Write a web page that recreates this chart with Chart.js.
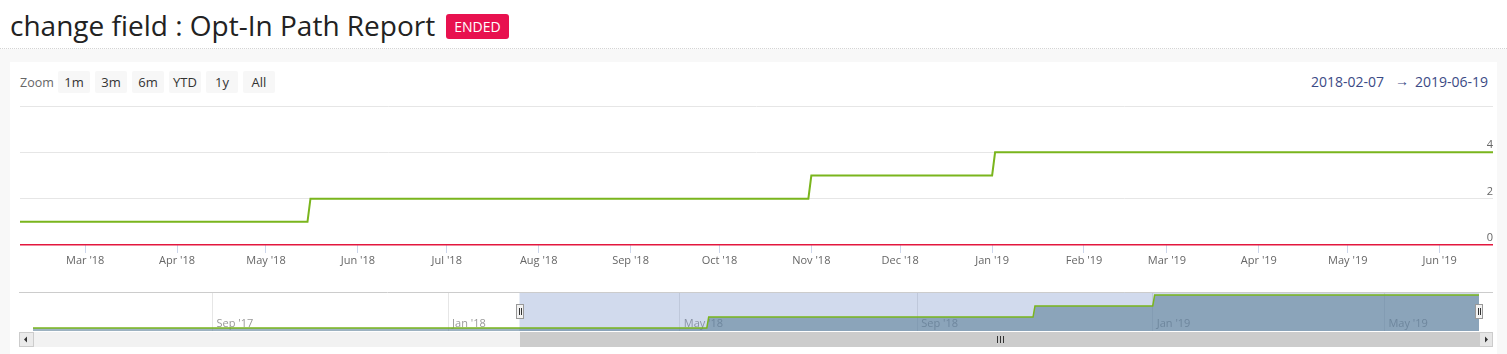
<!DOCTYPE html>
<html>
<head>
<meta charset="utf-8">
<script src="https://cdn.jsdelivr.net/npm/chart.js@4.4.1/dist/chart.umd.min.js"></script>
<style>
html, body { margin: 0; padding: 0; }
body { width: 1507px; height: 354px; background: #f8f8f8; font-family: "Open Sans", sans-serif; position: relative; overflow: hidden; }
.header { position: absolute; left: 0; top: 0; width: 1507px; height: 48px; background: #fff; border-bottom: 1px dotted #d4d4d4; }
.title { position: absolute; left: 10px; top: 5px; font-size: 28px; line-height: 40px; color: #222; white-space: nowrap; }
.badge { position: absolute; left: 446px; top: 14px; width: 63px; height: 25px; line-height: 25px; border-radius: 3px; background: #e8114f; color: #fff; font-size: 14px; text-align: center; }
.panel { position: absolute; left: 10px; top: 62px; width: 1487px; height: 292px; background: #fff; }
.zoom-label { position: absolute; left: 20px; top: 74px; font-size: 12.5px; line-height: 18px; color: #666; }
.rbtn { position: absolute; top: 71px; width: 32px; height: 22px; line-height: 22px; background: #f7f7f7; border-radius: 2px; font-size: 13px; color: #333; text-align: center; }
.range { position: absolute; top: 72px; font-size: 14px; line-height: 20px; color: #3b4a85; white-space: nowrap; }
.arrow { position: absolute; left: 1395px; top: 72px; font-size: 14px; line-height: 18px; color: #3b4a85; }
canvas { position: absolute; left: 0; }
</style>
</head>
<body>
<div class="header">
  <div class="title">change field : Opt-In Path Report</div>
  <div class="badge">ENDED</div>
</div>
<div class="panel"></div>
<div class="zoom-label">Zoom</div>
<div id="buttons"></div>
<div class="range" style="left:1311px">2018-02-07</div>
<div class="arrow">→</div>
<div class="range" style="left:1415px">2019-06-19</div>
<canvas id="main-chart" width="1507" height="180" style="top:96px"></canvas>
<canvas id="nav-chart" width="1507" height="64" style="top:286px"></canvas>
<script>
// field change count, one point per day where it changed
const changeDates = ['2017-05-31', '2018-05-15', '2018-05-16', '2018-10-31', '2018-11-01', '2019-01-01', '2019-01-02', '2019-06-19'];
const fieldChanges = [1, 1, 2, 2, 3, 3, 4, 4];

const rangeStart = '2018-02-07';
const rangeEnd = '2019-06-19';

const mainTickDates = ['2018-03-01', '2018-04-01', '2018-05-01', '2018-06-01', '2018-07-01', '2018-08-01', '2018-09-01', '2018-10-01',
    '2018-11-01', '2018-12-01', '2019-01-01', '2019-02-01', '2019-03-01', '2019-04-01', '2019-05-01', '2019-06-01'];
const mainTickLabels = ["Mar '18", "Apr '18", "May '18", "Jun '18", "Jul '18", "Aug '18", "Sep '18", "Oct '18",
    "Nov '18", "Dec '18", "Jan '19", "Feb '19", "Mar '19", "Apr '19", "May '19", "Jun '19"];
const yTickValues = [0, 2, 4, 6];

const navTickDates = ['2017-09-01', '2018-01-01', '2018-05-01', '2018-09-01', '2019-01-01', '2019-05-01'];
const navTickLabels = ["Sep '17", "Jan '18", "May '18", "Sep '18", "Jan '19", "May '19"];

const rangeButtons = ['1m', '3m', '6m', 'YTD', '1y', 'All'];

const GREEN = '#7ab51d';
const GRID_COLOR = '#e6e6e6';
const TICK_COLOR = '#666666';

const toMs = d => Date.parse(d + 'T00:00:00Z');
const points = changeDates.map((d, i) => ({ x: toMs(d), y: fieldChanges[i] }));

Chart.defaults.font.family = '"Open Sans", sans-serif';
Chart.defaults.font.size = 11;

const btnWrap = document.getElementById('buttons');
rangeButtons.forEach((b, i) => {
    const el = document.createElement('div');
    el.className = 'rbtn';
    el.style.left = (58 + i * 37) + 'px';
    el.textContent = b;
    btnWrap.appendChild(el);
});

new Chart(document.getElementById('main-chart'), {
    type: 'line',
    data: {
        datasets: [{
            data: points,
            borderColor: GREEN, borderWidth: 2,
            pointRadius: 0, tension: 0, fill: false
        }]
    },
    options: {
        responsive: false, animation: false, devicePixelRatio: 1,
        layout: { padding: { left: 20, right: 14, top: 10, bottom: 0 } },
        plugins: { legend: { display: false }, tooltip: { enabled: false } },
        scales: {
            x: {
                type: 'linear', min: toMs(rangeStart), max: toMs(rangeEnd),
                afterBuildTicks: s => { s.ticks = mainTickDates.map(d => ({ value: toMs(d) })); },
                afterFit: s => { s.height = 31; },
                border: { display: false },
                grid: { drawOnChartArea: false, drawTicks: true, tickLength: 8, color: '#ccd6eb' },
                ticks: { color: TICK_COLOR, autoSkip: false, maxRotation: 0, padding: 1, callback: (v, i) => mainTickLabels[i] }
            },
            y: {
                position: 'right', min: 0, max: 6,
                afterBuildTicks: s => { s.ticks = yTickValues.map(v => ({ value: v })); },
                afterFit: s => { s.width = 0; },
                border: { display: false },
                grid: {
                    drawTicks: false,
                    color: c => c.tick && c.tick.value === 0 ? '#e3173e' : GRID_COLOR,
                    lineWidth: c => c.tick && c.tick.value === 0 ? 1.5 : 1
                },
                ticks: { color: TICK_COLOR, mirror: true, padding: 0, labelOffset: -7, callback: v => v === 6 ? '' : String(v) }
            }
        }
    }
});

// navigator mask, handles, outline and scrollbar
const navigatorChrome = {
    id: 'navigatorChrome',
    beforeDatasetsDraw(chart) {
        const { ctx, chartArea: a, scales: { x } } = chart;
        const x0 = x.getPixelForValue(toMs(rangeStart)), x1 = x.getPixelForValue(toMs(rangeEnd));
        ctx.save();
        ctx.fillStyle = 'rgba(102,133,194,0.3)';
        ctx.fillRect(x0, a.top, x1 - x0, a.bottom - a.top);
        ctx.restore();
    },
    afterDraw(chart) {
        const { ctx, chartArea: a, scales: { x } } = chart;
        const x0 = Math.round(x.getPixelForValue(toMs(rangeStart)));
        const x1 = Math.round(x.getPixelForValue(toMs(rangeEnd)));
        const L = 19, R = 1493;
        ctx.save();
        ctx.strokeStyle = '#cccccc'; ctx.lineWidth = 1;
        ctx.beginPath(); ctx.moveTo(L, a.top + 0.5); ctx.lineTo(R, a.top + 0.5); ctx.stroke();

        // scrollbar
        const sy = Math.round(a.bottom) + 1, sh = 15;
        ctx.fillStyle = '#f2f2f2'; ctx.fillRect(L, sy, R - L, sh);
        ctx.fillStyle = '#cccccc'; ctx.fillRect(x0, sy, x1 - x0, sh);
        ctx.fillStyle = '#ebebeb'; ctx.fillRect(L, sy, 14, sh);
        ctx.strokeStyle = '#cccccc'; ctx.strokeRect(L + 0.5, sy + 0.5, 14, sh - 1);
        ctx.fillStyle = '#e6e6e6'; ctx.fillRect(R - 14, sy, 14, sh);
        ctx.strokeRect(R - 14 + 0.5, sy + 0.5, 13, sh - 1);
        ctx.fillStyle = '#333';
        const cy = sy + sh / 2;
        ctx.beginPath(); ctx.moveTo(L + 5, cy); ctx.lineTo(L + 8, cy - 3); ctx.lineTo(L + 8, cy + 3); ctx.closePath(); ctx.fill();
        ctx.beginPath(); ctx.moveTo(R - 5, cy); ctx.lineTo(R - 8, cy - 3); ctx.lineTo(R - 8, cy + 3); ctx.closePath(); ctx.fill();
        const gx = Math.round((x0 + x1) / 2);
        ctx.strokeStyle = '#333';
        [-3, 0, 3].forEach(d => {
            ctx.beginPath(); ctx.moveTo(gx + d + 0.5, cy - 3.5); ctx.lineTo(gx + d + 0.5, cy + 3.5); ctx.stroke();
        });

        // handles
        [x0, x1].forEach(hx => {
            ctx.fillStyle = '#f2f2f2'; ctx.strokeStyle = '#999';
            ctx.fillRect(hx - 4, a.top + 12, 8, 15);
            ctx.strokeRect(hx - 3.5, a.top + 12.5, 7, 14);
            ctx.strokeStyle = '#333';
            [-1, 1].forEach(d => {
                ctx.beginPath(); ctx.moveTo(hx + d + 0.5, a.top + 16); ctx.lineTo(hx + d + 0.5, a.top + 23); ctx.stroke();
            });
        });
        ctx.restore();
    }
};

new Chart(document.getElementById('nav-chart'), {
    type: 'line',
    data: {
        datasets: [{
            data: points,
            borderColor: GREEN, borderWidth: 1.5,
            backgroundColor: 'rgba(91,126,152,0.6)',
            pointRadius: 0, tension: 0, fill: 'start'
        }]
    },
    options: {
        responsive: false, animation: false, devicePixelRatio: 1,
        layout: { padding: { left: 33, right: 28, top: 6, bottom: 0 } },
        plugins: { legend: { display: false }, tooltip: { enabled: false } },
        scales: {
            x: {
                type: 'linear', min: toMs(changeDates[0]), max: toMs(changeDates[changeDates.length - 1]),
                afterBuildTicks: s => { s.ticks = navTickDates.map(d => ({ value: toMs(d) })); },
                afterFit: s => { s.height = 19; },
                border: { display: false },
                grid: { drawTicks: false, color: GRID_COLOR },
                // mirror keeps the labels inside the plot, as the navigator draws them
                ticks: { color: '#999999', align: 'start', mirror: true, labelOffset: 4, padding: 1, autoSkip: false, maxRotation: 0, callback: (v, i) => navTickLabels[i] }
            },
            y: { display: false, min: 0.73, max: 4.27 }
        }
    },
    plugins: [navigatorChrome]
});
</script>
</body>
</html>
